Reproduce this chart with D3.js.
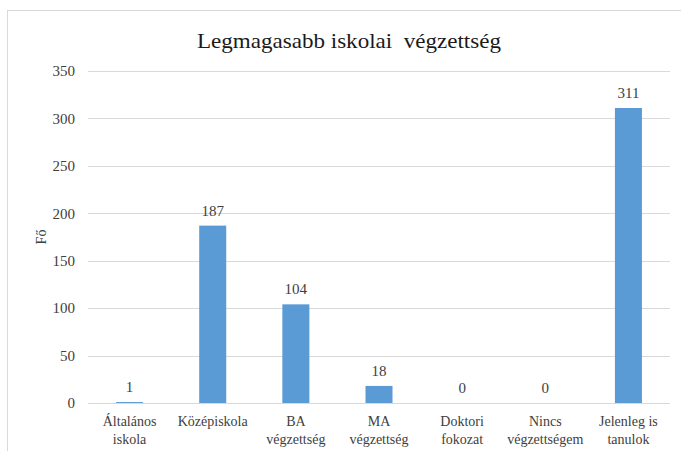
<!DOCTYPE html>
<html>
<head>
<meta charset="utf-8">
<script src="https://cdn.jsdelivr.net/npm/d3@7"></script>
<style>
  body { margin: 0; background: #fff; }
</style>
</head>
<body>
<div id="chart"></div>
<script>
// Data
var categories = [
  ["Általános", "iskola"],
  ["Középiskola"],
  ["BA", "végzettség"],
  ["MA", "végzettség"],
  ["Doktori", "fokozat"],
  ["Nincs", "végzettségem"],
  ["Jelenleg is", "tanulok"]
];
var values = [1, 187, 104, 18, 0, 0, 311];
var yTicks = [0, 50, 100, 150, 200, 250, 300, 350];

var FONT = "'Liberation Serif', 'Times New Roman', serif";
var W = 681, H = 451;
var margin = {top: 71, right: 11, bottom: 48, left: 88};
var width = W - margin.left - margin.right,
  height = H - margin.top - margin.bottom;

var svg = d3.select('#chart').append('svg')
  .attr('width', W)
  .attr('height', H);

// chart frame
svg.append('rect')
  .attr('x', 7.5).attr('y', 10.5)
  .attr('width', W + 10).attr('height', H + 10)
  .attr('fill', 'none')
  .attr('stroke', '#d9d9d9');

var g = svg.append('g')
  .attr('transform', 'translate(' + margin.left + ',' + margin.top + ')');

var keys = categories.map(function (d) { return d.join(' '); });

var x = d3.scaleBand()
  .domain(keys)
  .range([0, width])
  .paddingInner(0.675)
  .paddingOuter(0.3375);

var y = d3.scaleLinear()
  .domain([0, 350])
  .range([height, 0]);

// gridlines
g.selectAll('.grid')
  .data(yTicks)
  .enter().append('line')
  .attr('x1', 0).attr('x2', width)
  .attr('y1', function (d) { return Math.round(y(d)) + 0.5; })
  .attr('y2', function (d) { return Math.round(y(d)) + 0.5; })
  .attr('stroke', '#d9d9d9');

// y axis labels
var yAxis = g.append('g')
  .call(d3.axisLeft(y).tickValues(yTicks).tickSize(0).tickPadding(13));
yAxis.select('.domain').remove();
yAxis.selectAll('text')
  .attr('fill', '#404040')
  .style('font-family', FONT)
  .style('font-size', '15px');

// bars
g.selectAll('.bar')
  .data(values)
  .enter().append('rect')
  .attr('class', 'bar')
  .attr('x', function (d, i) { return x(keys[i]); })
  .attr('width', x.bandwidth())
  .attr('y', function (d) { return y(d); })
  .attr('height', function (d) { return height - y(d); })
  .attr('fill', '#5b9bd5');

// value labels
g.selectAll('.val')
  .data(values)
  .enter().append('text')
  .attr('x', function (d, i) { return x(keys[i]) + x.bandwidth() / 2; })
  .attr('y', function (d) { return y(d) - 10; })
  .attr('text-anchor', 'middle')
  .attr('fill', '#404040')
  .style('font-family', FONT)
  .style('font-size', '15px')
  .text(function (d) { return d; });

// x labels
var xl = g.selectAll('.xlab')
  .data(categories)
  .enter().append('text')
  .attr('text-anchor', 'middle')
  .attr('fill', '#404040')
  .style('font-family', FONT)
  .style('font-size', '14px')
  .attr('transform', function (d, i) {
    return 'translate(' + (x(keys[i]) + x.bandwidth() / 2) + ',' + (height + 23) + ')';
  });
xl.selectAll('tspan')
  .data(function (d) { return d; })
  .enter().append('tspan')
  .attr('x', 0)
  .attr('dy', function (d, i) { return i === 0 ? 0 : 17.5; })
  .text(function (d) { return d; });

// axis title
svg.append('text')
  .attr('transform', 'translate(46,' + (margin.top + height / 2) + ') rotate(-90)')
  .attr('text-anchor', 'middle')
  .attr('fill', '#404040')
  .style('font-family', FONT)
  .style('font-size', '14px')
  .text('Fő');

// chart title
svg.append('text')
  .attr('x', 349)
  .attr('y', 48)
  .attr('text-anchor', 'middle')
  .attr('fill', '#1a1a1a')
  .attr('textLength', 304)
  .attr('lengthAdjust', 'spacingAndGlyphs')
  .style('font-family', FONT)
  .style('font-size', '22px')
  .style('white-space', 'pre')
  .text('Legmagasabb iskolai  végzettség');
</script>
</body>
</html>
